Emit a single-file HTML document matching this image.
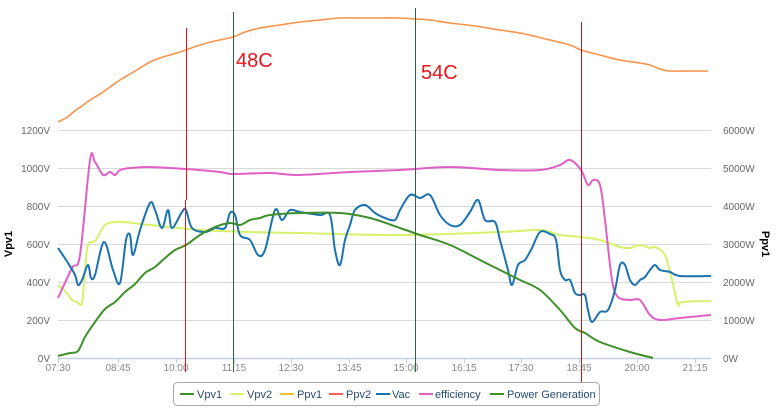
<!DOCTYPE html>
<html><head><meta charset="utf-8"><style>
html,body{margin:0;padding:0;background:#fff;}
svg{display:block;font-family:"Liberation Sans",sans-serif;}
</style></head><body>
<svg id="c" width="777" height="417" viewBox="0 0 777 417" xmlns="http://www.w3.org/2000/svg">
<g stroke="#d8d8d8" stroke-width="1">
<line x1="58" y1="130.5" x2="711" y2="130.5"/>
<line x1="58" y1="168.5" x2="711" y2="168.5"/>
<line x1="58" y1="206.5" x2="711" y2="206.5"/>
<line x1="58" y1="244.5" x2="711" y2="244.5"/>
<line x1="58" y1="282.5" x2="711" y2="282.5"/>
<line x1="58" y1="320.5" x2="711" y2="320.5"/>
</g>
<line x1="58" y1="358.5" x2="711" y2="358.5" stroke="#c0d0e0" stroke-width="1.5"/>
<g stroke="#c0d0e0" stroke-width="1">
<line x1="58.5" y1="358" x2="58.5" y2="363"/><line x1="118.5" y1="358" x2="118.5" y2="363"/><line x1="176.5" y1="358" x2="176.5" y2="363"/><line x1="234.5" y1="358" x2="234.5" y2="363"/><line x1="291.5" y1="358" x2="291.5" y2="363"/><line x1="349.5" y1="358" x2="349.5" y2="363"/><line x1="406.5" y1="358" x2="406.5" y2="363"/><line x1="464.5" y1="358" x2="464.5" y2="363"/><line x1="521.5" y1="358" x2="521.5" y2="363"/><line x1="579.5" y1="358" x2="579.5" y2="363"/><line x1="637.5" y1="358" x2="637.5" y2="363"/><line x1="695.5" y1="358" x2="695.5" y2="363"/>
</g>
<g fill="#666" font-size="10" text-anchor="end">
<text x="50" y="134">1200V</text><text x="50" y="172">1000V</text><text x="50" y="210">800V</text><text x="50" y="248">600V</text><text x="50" y="286">400V</text><text x="50" y="324">200V</text><text x="50" y="362">0V</text>
</g>
<g fill="#666" font-size="10">
<text x="723" y="134">6000W</text><text x="723" y="172">5000W</text><text x="723" y="210">4000W</text><text x="723" y="248">3000W</text><text x="723" y="286">2000W</text><text x="723" y="324">1000W</text><text x="723" y="362">0W</text>
</g>
<g fill="#888" font-size="10" text-anchor="middle">
<text x="58" y="371">07:30</text><text x="118" y="371">08:45</text><text x="176" y="371">10:00</text><text x="234" y="371">11:15</text><text x="291" y="371">12:30</text><text x="349" y="371">13:45</text><text x="406" y="371">15:00</text><text x="464" y="371">16:15</text><text x="521" y="371">17:30</text><text x="579" y="371">18:45</text><text x="637" y="371">20:00</text><text x="695" y="371">21:15</text>
</g>
<text transform="translate(12,244) rotate(-90)" font-size="11" font-weight="bold" fill="#000" text-anchor="middle">Vpv1</text>
<text transform="translate(762,244) rotate(90)" font-size="11" font-weight="bold" fill="#000" text-anchor="middle">Ppv1</text>
<g fill="none" stroke-width="2" stroke-linejoin="round" id="series">
<polyline stroke="#f7934a" stroke-width="1.6" points="58,122 62,120 66,118 70,115 76,110 82,106 90,100 100,94 110,87 120,80 130,74 140,68 150,62 160,58 170,55 180,52 186,50 200,45 215,41 233,37 245,32 260,28 280,25 300,22 320,20 340,18 360,18 380,18 400,18 415,19 430,20 450,23 475,26 500,30 525,34 550,40 570,45 581,50 600,55 620,60 640,63 650,65 660,69 670,71 690,71 708,71"/>
<polyline stroke="#d4f26a" points="58,285 66,292 72,300 77,302 82,303 85,270 88,245 96,240 105,225 120,222 150,225 200,230 250,232 300,233 400,235 500,232 540,230 560,235 581,237 600,240 620,247 630,248 640,245 650,248 655,247 665,255 672,280 678,305 682,302 711,301"/>
<polyline stroke="#e060c8" points="58,298 72,268 80,255 90,160 95,162 103,175 110,172 115,175 120,170 130,168 150,167 186,169 220,172 233,174 270,173 300,175 350,172 400,170 450,167 500,170 540,170 560,165 570,160 581,170 588,185 593,180 600,185 605,220 612,280 618,297 630,300 640,300 650,315 660,320 680,318 711,315"/>
<polyline stroke="#1a72b0" points="58,248 68,263 75,275 78,285 82,280 88,265 91,278 95,275 104,242 113,270 120,283 126,240 130,235 133,255 140,230 150,203 155,210 162,228 168,210 172,228 182,212 186,210 192,228 205,232 215,228 225,228 230,213 235,215 240,235 250,240 258,255 265,250 275,210 282,220 290,210 300,212 320,215 330,215 335,250 340,265 345,240 350,225 355,210 365,205 375,213 385,218 395,220 400,210 410,195 420,198 430,195 440,215 450,225 460,225 470,212 478,200 485,220 495,222 500,240 508,270 512,285 518,265 525,260 532,248 540,232 550,234 556,240 560,270 565,280 570,280 575,293 580,295 585,295 588,310 592,322 600,312 608,310 615,290 620,265 625,265 630,280 635,285 640,280 645,277 650,270 655,265 660,270 670,272 680,276 711,276"/>
<polyline stroke="#3f8f2a" points="58,356 70,353 78,351 85,337 95,322 105,309 115,302 125,292 135,284 145,273 155,267 165,258 175,250 186,245 200,235 215,227 230,223 240,225 250,220 260,218 270,215 300,213 340,213 370,218 400,228 420,235 450,245 480,260 500,270 520,280 540,290 560,310 575,328 585,333 600,342 630,352 653,358"/>
</g>
<line x1="186.5" y1="28" x2="186.5" y2="200" stroke="#e8141c" stroke-width="1"/>
<line x1="185.5" y1="200" x2="185.5" y2="372" stroke="#e8141c" stroke-width="1"/>
<line x1="233.5" y1="12" x2="233.5" y2="372" stroke="#2a6a3a" stroke-width="1"/>
<line x1="415.5" y1="8" x2="415.5" y2="372" stroke="#2a6a3a" stroke-width="1"/>
<line x1="581.5" y1="22" x2="581.5" y2="400" stroke="#c0141c" stroke-width="1"/>
<text x="236" y="67" font-size="20" fill="#e8141c">48C</text>
<text x="421" y="79" font-size="20" fill="#e8141c">54C</text>
<rect x="173.5" y="382.5" width="426" height="23" rx="4" fill="#fff" stroke="#aaa"/>
<g stroke-width="2">
<line x1="180" y1="394" x2="194" y2="394" stroke="#3f8f2a"/>
<line x1="230" y1="394" x2="244" y2="394" stroke="#d4f26a"/>
<line x1="280" y1="394" x2="294" y2="394" stroke="#f2c12e"/>
<line x1="329" y1="394" x2="343" y2="394" stroke="#f25f5f"/>
<line x1="376" y1="394" x2="390" y2="394" stroke="#1a72b0"/>
<line x1="419" y1="394" x2="433" y2="394" stroke="#e060c8"/>
<line x1="490" y1="394" x2="504" y2="394" stroke="#3f8f2a"/>
</g>
<g fill="#274b6d" font-size="11">
<text x="197" y="398">Vpv1</text><text x="247" y="398">Vpv2</text><text x="297" y="398">Ppv1</text><text x="346" y="398">Ppv2</text><text x="392" y="398">Vac</text><text x="435" y="398">efficiency</text><text x="507" y="398">Power Generation</text>
</g>
</svg>
<script>
(function(){
var ns="http://www.w3.org/2000/svg";
var pls=document.querySelectorAll('#series polyline');
for(var k=0;k<pls.length;k++){
 var pl=pls[k];
 var pts=pl.getAttribute('points').trim().split(/\s+/).map(function(s){var a=s.split(',');return[+a[0],+a[1]];});
 var d='M'+pts[0][0]+','+pts[0][1];
 for(var i=0;i<pts.length-1;i++){
  var p0=pts[i-1]||pts[i],p1=pts[i],p2=pts[i+1],p3=pts[i+2]||p2;
  var t=1/6;
  var c1x=p1[0]+(p2[0]-p0[0])*t,c1y=p1[1]+(p2[1]-p0[1])*t;
  var c2x=p2[0]-(p3[0]-p1[0])*t,c2y=p2[1]-(p3[1]-p1[1])*t;
  if(c1x<p1[0])c1x=p1[0]; if(c2x>p2[0])c2x=p2[0];
  d+=' C'+c1x.toFixed(1)+','+c1y.toFixed(1)+' '+c2x.toFixed(1)+','+c2y.toFixed(1)+' '+p2[0]+','+p2[1];
 }
 var p=document.createElementNS(ns,'path');
 p.setAttribute('d',d);p.setAttribute('stroke',pl.getAttribute('stroke'));
 p.setAttribute('stroke-width',pl.getAttribute('stroke-width')||'2');
 pl.parentNode.replaceChild(p,pl);
}
})();
</script>
</body></html>
